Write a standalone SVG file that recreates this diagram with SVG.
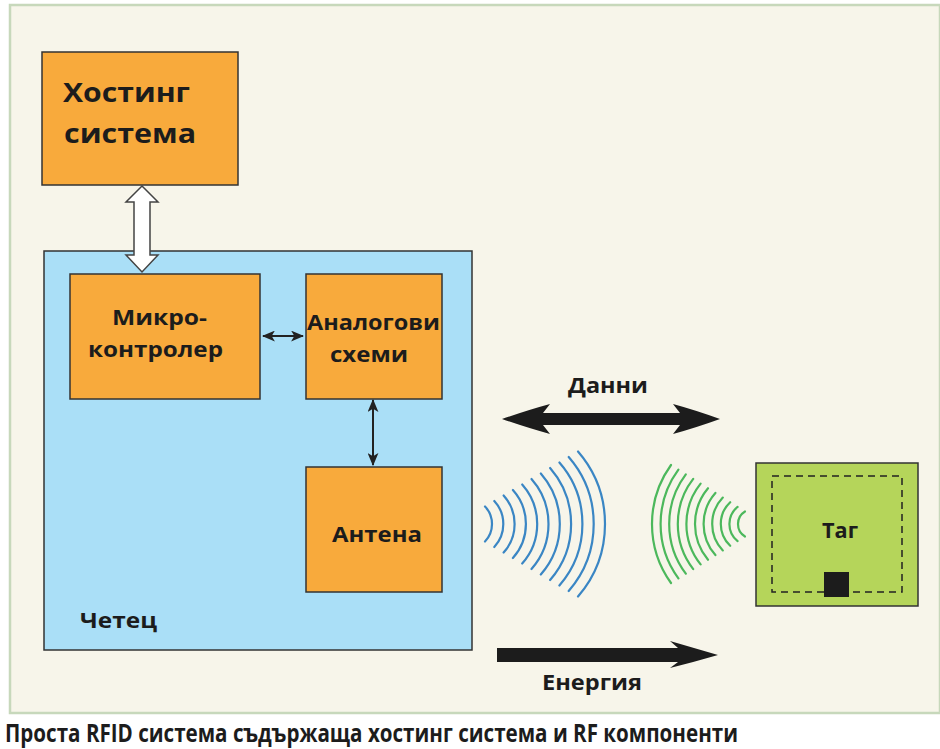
<svg xmlns="http://www.w3.org/2000/svg" width="940" height="749" viewBox="0 0 940 749">
  <defs>
    <style>
      .lbl { font-family: "Open Sans", "Liberation Sans", sans-serif; font-weight: bold; fill: #1c1c1c; }
      .box { fill: #f8aa3c; stroke: #333; stroke-width: 1.5; }
      .blue { fill: none; stroke: #3a86c4; stroke-width: 2.2; stroke-linecap: round; }
      .green { fill: none; stroke: #4cb85c; stroke-width: 2.2; stroke-linecap: round; }
      .thin { stroke: #222; stroke-width: 2; fill: none; }
    </style>
    <marker id="head" viewBox="0 0 12 10" refX="11" refY="5" markerWidth="13" markerHeight="11" markerUnits="userSpaceOnUse" orient="auto-start-reverse">
      <path d="M0,0 L12,5 L0,10 L3,5 z" fill="#222"/>
    </marker>
  </defs>

  <!-- page -->
  <rect x="0" y="0" width="940" height="749" fill="#ffffff"/>
  <rect x="10" y="5" width="930" height="708" fill="#f7f5ea" stroke="#c7d8bb" stroke-width="2.5"/>

  <!-- host system -->
  <g id="host">
    <rect class="box" x="42" y="52" width="196" height="133"/>
    <text class="lbl" x="63" y="102" font-size="27" textLength="127" lengthAdjust="spacingAndGlyphs">Хостинг</text>
    <text class="lbl" x="64" y="143" font-size="27" textLength="132" lengthAdjust="spacingAndGlyphs">система</text>
  </g>

  <!-- reader -->
  <g id="reader">
    <rect x="44" y="251" width="428" height="399" fill="#aadff7" stroke="#333" stroke-width="1.5"/>
    <text class="lbl" x="80" y="628" font-size="22" textLength="77" lengthAdjust="spacingAndGlyphs">Четец</text>
  </g>

  <g id="micro">
    <rect class="box" x="70" y="274" width="190" height="125"/>
    <text class="lbl" x="112" y="325" font-size="22" textLength="95" lengthAdjust="spacingAndGlyphs">Микро-</text>
    <text class="lbl" x="88" y="357" font-size="22" textLength="135" lengthAdjust="spacingAndGlyphs">контролер</text>
  </g>

  <g id="analog">
    <rect class="box" x="306" y="274" width="136" height="125"/>
    <text class="lbl" x="307" y="330" font-size="22" textLength="133" lengthAdjust="spacingAndGlyphs">Аналогови</text>
    <text class="lbl" x="330" y="362" font-size="22" textLength="78" lengthAdjust="spacingAndGlyphs">схеми</text>
  </g>

  <g id="antenna">
    <rect class="box" x="306" y="467" width="136" height="125"/>
    <text class="lbl" x="332" y="542" font-size="22" textLength="90" lengthAdjust="spacingAndGlyphs">Антена</text>
  </g>

  <!-- tag -->
  <g id="tag">
    <rect x="756" y="463" width="162" height="143" fill="#b5d55a" stroke="#333" stroke-width="1.5"/>
    <rect x="772" y="476" width="130" height="116" fill="none" stroke="#222" stroke-width="1.5" stroke-dasharray="7,5"/>
    <rect x="824" y="572" width="25" height="25" fill="#1c1c1c"/>
    <text class="lbl" x="840" y="538" font-size="21" text-anchor="middle" textLength="36" lengthAdjust="spacingAndGlyphs">Таг</text>
  </g>

  <!-- radio waves -->
  <g id="reader-waves">
    <path class="blue" d="M485,506.5 A25.38,25.38 0 0 1 485,541.5"/>
    <path class="blue" d="M494.3,501 A33.89,33.89 0 0 1 494.3,547"/>
    <path class="blue" d="M503.6,495.5 A42.42,42.42 0 0 1 503.6,552.5"/>
    <path class="blue" d="M512.9,490 A50.96,50.96 0 0 1 512.9,558"/>
    <path class="blue" d="M522.2,484.5 A59.51,59.51 0 0 1 522.2,563.5"/>
    <path class="blue" d="M531.5,479 A68.06,68.06 0 0 1 531.5,569"/>
    <path class="blue" d="M540.8,473.5 A76.61,76.61 0 0 1 540.8,574.5"/>
    <path class="blue" d="M550.1,468 A85.17,85.17 0 0 1 550.1,580"/>
    <path class="blue" d="M559.4,462.5 A93.72,93.72 0 0 1 559.4,585.5"/>
    <path class="blue" d="M568.7,457 A102.28,102.28 0 0 1 568.7,591"/>
    <path class="blue" d="M578,451.5 A110.84,110.84 0 0 1 578,596.5"/>
  </g>
  <g id="tag-waves">
    <path class="green" d="M671,465 A101.1,101.1 0 0 0 671,583"/>
    <path class="green" d="M678.4,469.65 A91.87,91.87 0 0 0 678.4,578.35"/>
    <path class="green" d="M685.8,474.3 A82.7,82.7 0 0 0 685.8,573.7"/>
    <path class="green" d="M693.2,478.95 A73.59,73.59 0 0 0 693.2,569.05"/>
    <path class="green" d="M700.6,483.6 A64.57,64.57 0 0 0 700.6,564.4"/>
    <path class="green" d="M708,488.25 A55.66,55.66 0 0 0 708,559.75"/>
    <path class="green" d="M715.4,492.9 A46.88,46.88 0 0 0 715.4,555.1"/>
    <path class="green" d="M722.8,497.55 A38.3,38.3 0 0 0 722.8,550.45"/>
    <path class="green" d="M730.2,502.2 A29.98,29.98 0 0 0 730.2,545.8"/>
    <path class="green" d="M737.6,506.85 A22.03,22.03 0 0 0 737.6,541.15"/>
    <path class="green" d="M745,511.5 A14.66,14.66 0 0 0 745,536.5"/>
  </g>

  <!-- connectors -->
  <g id="connectors">
    <path d="M142,186 L158,202 L150,202 L150,255 L158,255 L142,272 L126,255 L134,255 L134,202 L126,202 Z" fill="#ffffff" stroke="#444" stroke-width="1.5" stroke-linejoin="miter"/>
    <line class="thin" x1="263" y1="336" x2="303" y2="336" marker-start="url(#head)" marker-end="url(#head)"/>
    <line class="thin" x1="373" y1="400" x2="373" y2="465" marker-start="url(#head)" marker-end="url(#head)"/>
    <!-- data: both ways -->
    <path d="M502,419 Q528,410 550,404 L543,413 L680,413 L673,404 Q695,410 720,419 Q695,428 673,434 L680,425 L543,425 L550,434 Q528,428 502,419 Z" fill="#1c1c1c"/>
    <!-- energy: reader to tag -->
    <path d="M497,648 L678,648 L670,641 Q694,648 718,655 Q694,662 670,668 L678,662 L497,662 Z" fill="#1c1c1c"/>
    <text class="lbl" x="608" y="393" font-size="22" text-anchor="middle" textLength="80" lengthAdjust="spacingAndGlyphs">Данни</text>
    <text class="lbl" x="592" y="690" font-size="22" text-anchor="middle" textLength="100" lengthAdjust="spacingAndGlyphs">Енергия</text>
  </g>

  <!-- caption -->
  <text class="lbl" x="5" y="742" font-size="25" textLength="733" lengthAdjust="spacingAndGlyphs">Проста RFID система съдържаща хостинг система и RF компоненти</text>
</svg>
